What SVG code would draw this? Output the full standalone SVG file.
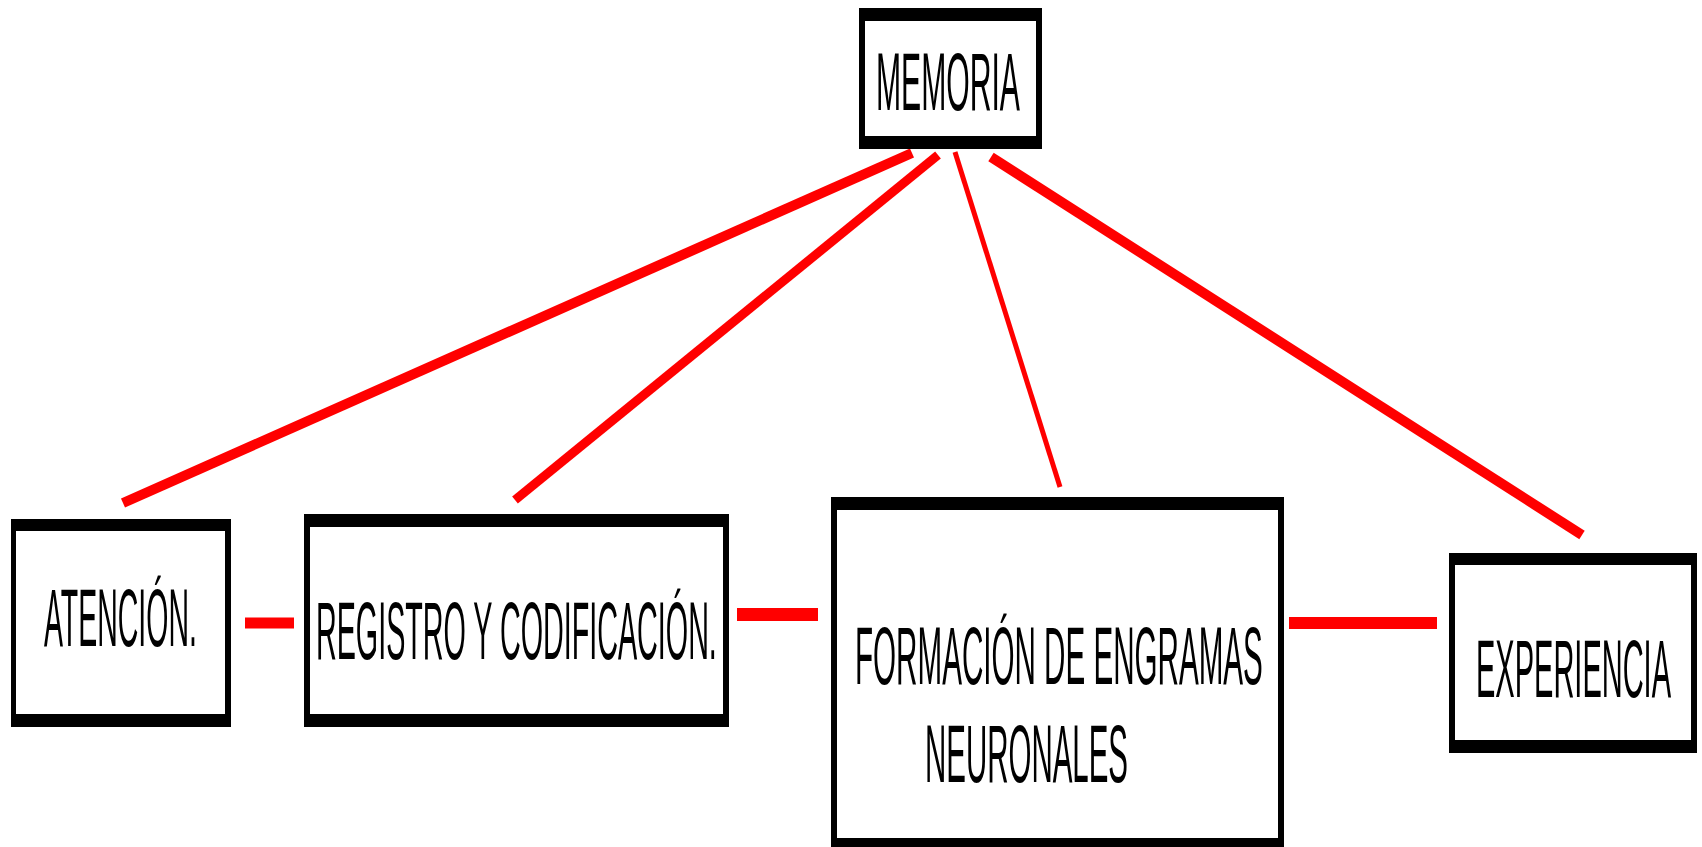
<svg xmlns="http://www.w3.org/2000/svg" width="1702" height="847" viewBox="0 0 1702 847">
<style>
.frame{fill:#000}
.inner{fill:#fff}
.lbl{font-family:"Liberation Sans",Arial,sans-serif;font-size:82px;fill:#000}
.con{stroke:#ff0000;fill:none;stroke-linecap:butt}
</style>
<rect x="0" y="0" width="1702" height="847" fill="#fff"/>
<g id="connectors">
<line class="con" x1="123" y1="503" x2="912" y2="153" stroke-width="10"/>
<line class="con" x1="515" y1="500" x2="938" y2="155" stroke-width="9"/>
<line class="con" x1="955" y1="152" x2="1060" y2="487" stroke-width="5"/>
<line class="con" x1="991" y1="157" x2="1582" y2="535" stroke-width="10"/>
<line class="con" x1="245" y1="623" x2="294" y2="623" stroke-width="11"/>
<line class="con" x1="737" y1="614.5" x2="818" y2="614.5" stroke-width="13"/>
<line class="con" x1="1289" y1="623" x2="1437" y2="623" stroke-width="12"/>
</g>
<g id="memoria">
<rect class="frame" x="859" y="8" width="183" height="141"/>
<rect class="inner" x="865" y="21" width="171" height="115"/>
<text class="lbl" transform="translate(876,110) scale(0.3675,1)">MEMORIA</text>
</g>
<g id="atencion">
<rect class="frame" x="11" y="519" width="220" height="208"/>
<rect class="inner" x="16" y="531" width="209" height="183"/>
<text class="lbl" transform="translate(44,646) scale(0.3472,1)">ATENCIÓN.</text>
</g>
<g id="registro">
<rect class="frame" x="304" y="514" width="425" height="213"/>
<rect class="inner" x="310" y="527" width="413" height="187"/>
<text class="lbl" transform="translate(316,659) scale(0.3501,1)">REGISTRO Y CODIFICACIÓN.</text>
</g>
<g id="formacion">
<rect class="frame" x="831" y="497" width="453" height="360"/>
<rect class="inner" x="837" y="510" width="441" height="328"/>
<text class="lbl" transform="translate(855,684) scale(0.3611,1)">FORMACIÓN DE ENGRAMAS</text>
<text class="lbl" transform="translate(925,782) scale(0.3593,1)">NEURONALES</text>
</g>
<g id="experiencia">
<rect class="frame" x="1449" y="553" width="248" height="200"/>
<rect class="inner" x="1455" y="565" width="236" height="175"/>
<text class="lbl" transform="translate(1476,697) scale(0.3537,1)">EXPERIENCIA</text>
</g>
</svg>
